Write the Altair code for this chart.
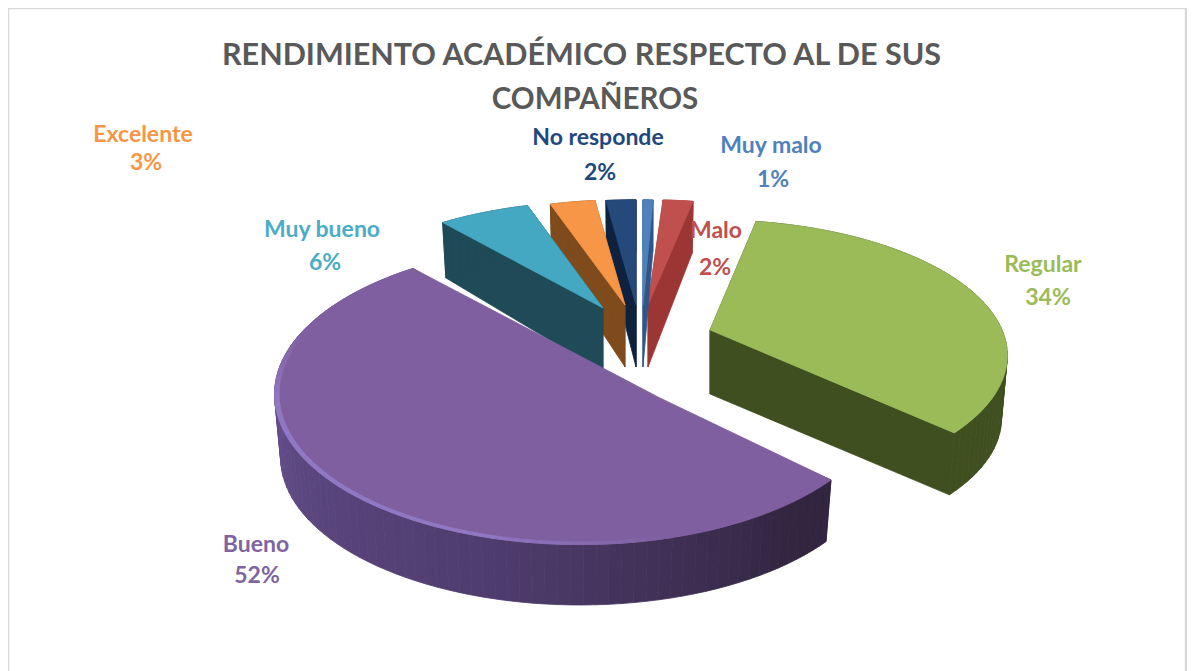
import math
import altair as alt
import pandas as pd

# ---- chart values ----
categories = ["Muy malo", "Malo", "Regular", "Bueno", "Muy bueno", "Excelente", "No responde"]
percent = [1, 2, 34, 52, 6, 3, 2]
percent_labels = ["1%", "2%", "34%", "52%", "6%", "3%", "2%"]
title_first = "RENDIMIENTO ACADÉMICO RESPECTO AL DE SUS"
title_second = "COMPAÑEROS"

# ---- styling and layout ----
W, H = 1179, 663
OX, OY = 8, 8  # page margin
PERSP = 0.188
top_col = dict(zip(categories, ["#4f81bd", "#c0504d", "#9bbb59", "#7f5f9f", "#45a8c2", "#f79646", "#24497a"]))
wall_col = dict(zip(categories, ["#2f5686", "#9c3635", "#3f4f20", "#3c2e55", "#1f4a58", "#7f4a1c", "#0e2240"]))
label_col = dict(zip(categories, ["#4f81bd", "#c0504d", "#9bbb59", "#8064a2", "#4bacc6", "#f79646", "#1f497d"]))
# apex x, apex y, semi-axis x, semi-axis y, depth
solid = {
    "Malo": (648, 305, 285, 125, 62),
    "Muy malo": (643, 305, 190, 125, 62),
    "No responde": (636, 305, 285, 125, 62),
    "Excelente": (625, 305, 285, 125, 62),
    "Muy bueno": (603, 308, 288, 127, 64),
    "Regular": (710, 330, 292, 131, 64),
    "Bueno": (580, 366, 300, 145, 64),
}
visible_corner = {"Bueno": (660, 398)}
label_pos = {
    "Excelente": ((143, 135), (146, 163)),
    "No responde": ((598, 138), (600, 173)),
    "Muy malo": ((771, 146), (773, 180)),
    "Malo": ((716, 231), (715, 268)),
    "Regular": ((1043, 265), (1048, 298)),
    "Muy bueno": ((322, 230), (325, 263)),
    "Bueno": ((256, 545), (257, 576)),
}

# ---- slice geometry derived from the percentages ----
spans, acc = {}, 0
for c, p in zip(categories, percent):
    spans[c] = (acc * 3.6, (acc + p) * 3.6)
    acc += p


def rim(cat, deg, f=1.0, lower=False):
    ax, ay, a, b, d = solid[cat]
    t = math.radians(deg)
    u, v = math.sin(t), -math.cos(t)
    s = 1 / (1 - PERSP * v)
    drop = d * min(1, s) ** 1.3 if lower else 0
    return ax + a * f * u * s, ay + drop + b * f * v * s


rows = []


def poly(gid, color, pts):
    pts = list(pts) + [pts[0]]
    for i, (x, y) in enumerate(pts):
        rows.append({"g": gid, "o": i, "x": x - OX, "y": y - OY, "c": color})


def mix(c1, c2, t):
    t = min(1, max(0, t))
    a = [int(c1[i:i + 2], 16) for i in (1, 3, 5)]
    b = [int(c2[i:i + 2], 16) for i in (1, 3, 5)]
    return "#" + "".join(f"{round(p + (q - p) * t):02x}" for p, q in zip(a, b))


def bueno_wall(deg):
    if deg > 190:
        return mix("#4e3b6c", "#66508f", (deg - 190) / 80)
    return mix("#31253f", "#4e3b6c", (deg - 140) / 50)


BOTTOM = 0.98
for cat in ["Malo", "Muy malo", "No responde", "Excelente", "Muy bueno", "Regular", "Bueno"]:
    ax, ay, a, b, d = solid[cat]
    t0, t1 = spans[cat]
    n = max(4, int((t1 - t0) / 2))
    degs = [t0 + (t1 - t0) * i / n for i in range(n + 1)]
    # cut faces
    for k, tt in enumerate((t0, t1)):
        poly(f"{cat}-cut{k}", wall_col[cat],
             [(ax, ay), rim(cat, tt), rim(cat, tt, BOTTOM, True), (ax, ay + d)])
    # outer rim, shaded in strips
    for i in range(n):
        colr = bueno_wall(degs[i]) if cat == "Bueno" else wall_col[cat]
        poly(f"{cat}-rim{i}", colr,
             [rim(cat, degs[i]), rim(cat, degs[i + 1]),
              rim(cat, degs[i + 1], BOTTOM, True), rim(cat, degs[i], BOTTOM, True)])
    # top face
    corner = visible_corner.get(cat, (ax, ay))
    poly(f"{cat}-top", top_col[cat], [corner] + [rim(cat, x) for x in degs])
    # soft highlight along the front edge of the large slice
    if cat == "Bueno":
        for i in range(n):
            if 165 < degs[i] < 285:
                glow = mix(top_col[cat], "#9078c4", min((degs[i] - 165) / 30, (285 - degs[i]) / 30))
                poly(f"{cat}-edge{i}", glow,
                     [rim(cat, degs[i]), rim(cat, degs[i + 1]),
                      rim(cat, degs[i + 1], 0.985), rim(cat, degs[i], 0.985)])

df = pd.DataFrame(rows)

x_s = alt.Scale(domain=[0, W], range=[0, W])
y_s = alt.Scale(domain=[H, 0], range=[H, 0])
X = alt.X("x:Q", scale=x_s, axis=None)
Y = alt.Y("y:Q", scale=y_s, axis=None)

faces = (
    alt.Chart(df)
    .mark_line(filled=True, strokeWidth=0.8, interpolate="linear")
    .encode(
        x=X, y=Y, order="o:Q", detail="g:N",
        fill=alt.Fill("c:N", scale=None),
        stroke=alt.Stroke("c:N", scale=None),
    )
)

lab = []
for c, pct in zip(categories, percent_labels):
    (x1, y1), (x2, y2) = label_pos[c]
    lab.append({"t": c, "x": x1 - OX, "y": y1 - OY, "c": label_col[c]})
    lab.append({"t": pct, "x": x2 - OX, "y": y2 - OY, "c": label_col[c]})
texts = (
    alt.Chart(pd.DataFrame(lab))
    .mark_text(font="Lato", fontWeight="bold", fontSize=23, align="center", baseline="middle")
    .encode(x=X, y=Y, text="t:N", color=alt.Color("c:N", scale=None))
)
second_line = (
    alt.Chart(pd.DataFrame({"t": [title_second], "x": [595 - OX], "y": [100 - OY]}))
    .mark_text(font="Lato", fontWeight="bold", fontSize=29.5, color="#595959", align="center", baseline="middle")
    .encode(x=X, y=Y, text="t:N")
)

frame = pd.DataFrame({"x": [0, W - 1], "y": [0, 0], "y2": [H, H]})
side = alt.Chart(frame).mark_rule(color="#d9d9d9", strokeWidth=2.5).encode(x=X, y=Y, y2="y2:Q")
top_edge = alt.Chart(pd.DataFrame({"x": [0], "x2": [W], "y": [0]})).mark_rule(
    color="#d9d9d9", strokeWidth=2.5).encode(x=X, x2="x2:Q", y=Y)

chart = (
    alt.layer(faces, side, top_edge, texts, second_line)
    .properties(
        width=W, height=H, padding=0,
        autosize=alt.AutoSizeParams(type="none"),
        title=alt.TitleParams(
            text=title_first, font="Lato", fontWeight="bold", fontSize=30.5,
            color="#595959", anchor="middle", frame="group", dx=-16, offset=-65,
        ),
    )
    .configure_view(stroke=None)
)
chart.save("out.html", embed_options={"renderer": "svg", "actions": False})
